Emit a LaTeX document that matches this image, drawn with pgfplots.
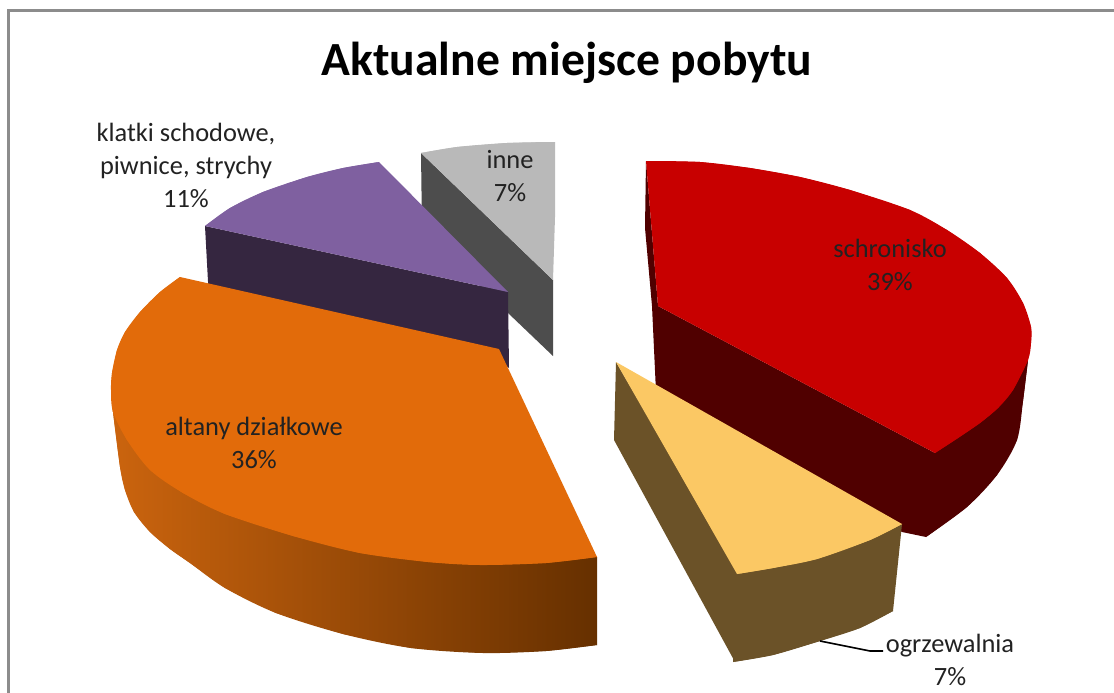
\documentclass[border=0pt]{standalone}
\usepackage{pgfplots}
\pgfplotsset{compat=1.18}
\usepackage{fontspec}
\setmainfont{Carlito}
\definecolor{redtop}{HTML}{C80000}
\definecolor{redside}{HTML}{500000}
\definecolor{yeltop}{HTML}{FBC864}
\definecolor{yelside}{HTML}{6B5228}
\definecolor{ortop}{HTML}{E26B0A}
\definecolor{orl}{HTML}{CB640E}
\definecolor{orm}{HTML}{A04E08}
\definecolor{orr}{HTML}{663000}
\definecolor{purtop}{HTML}{7F60A0}
\definecolor{purside}{HTML}{352640}
\definecolor{gretop}{HTML}{B9B9B9}
\definecolor{greside}{HTML}{4D4D4D}
\definecolor{frame}{HTML}{8C8C8C}
\definecolor{lab}{HTML}{222222}
\begin{document}
\begin{tikzpicture}
\begin{axis}[
    scale only axis,
    width=1114pt, height=693pt,
    xmin=0, xmax=1114, ymin=0, ymax=693,
    y dir=reverse,
    hide axis,
    clip=true,
    every axis plot/.append style={no marks, draw=none},
]
% page size
\addplot[fill=white] coordinates {(0,0) (1114,0) (1114,693) (0,693)} -- cycle;
% outer frame, only top and left are in the picture
\addplot[draw=frame, line width=2.6pt] coordinates {(8.7,693) (8.7,10.3) (1114,10.3)};
% each slice: a polygon with the straight edges, then the same arc again smoothed

% inne
\addplot[fill=greside] coordinates {(421,153) (553,280) (553,356) (508,313) (422,230)} -- cycle;
\addplot[fill=gretop] coordinates {(421,153) (457,147) (507,143) (555,142) (555,217) (553,280)} -- cycle;
\addplot[fill=gretop, smooth] coordinates {(421,153) (457,147) (507,143) (555,142)} -- cycle;
% klatki
\addplot[fill=purside] coordinates {(205,226) (508,292) (509,368) (499,360) (209,300)} -- cycle;
\addplot[fill=purtop] coordinates {(205,226) (230,208) (263,192) (307,177) (343,168) (379,162) (508,292)} -- cycle;
\addplot[fill=purtop, smooth] coordinates {(205,226) (230,208) (263,192) (307,177) (343,168) (379,162)} -- cycle;
% altany, same x range in both so the shading lines up
\addplot[left color=orl, middle color=orm, right color=orr] coordinates {
    (111,390) (597,557) (597,645) (546,651) (483,653) (411,648) (343,634) (276,613) (225,588) (190,563)
    (170,549) (150,532) (134,512) (125,490) (120,467) (113,412)} -- cycle;
\addplot[smooth, left color=orl, middle color=orm, right color=orr] coordinates {
    (111,390) (113,412) (120,467) (125,490) (134,512) (150,532) (170,549) (190,563) (225,588) (276,613) (343,634) (411,648)
    (483,653) (546,651) (597,645)} -- cycle;
\addplot[fill=ortop] coordinates {
    (180,277) (499,349) (597,557) (546,563) (480,565) (428,562) (360,553) (293,536) (225,514)
    (183,493) (150,470) (127,440) (113,412) (111,390) (112,373) (117,350) (125,332) (140,312) (160,292)} -- cycle;
\addplot[fill=ortop, smooth] coordinates {
    (180,277) (160,292) (140,312) (125,332) (117,350) (112,373) (111,390) (113,412) (127,440) (150,470) (183,493) (225,514)
    (293,536) (360,553) (428,562) (480,565) (546,563) (597,557)} -- cycle;
% schronisko
\addplot[fill=redside] coordinates {
    (646,161) (645,228) (652,306) (656,392) (902,532) (926,537) (967,507) (997,475) (1017,440) (1023,401) (1028,360) (935,453) (658,306)} -- cycle;
\addplot[fill=redside, smooth] coordinates {(926,537) (967,507) (997,475) (1017,440) (1023,401) (1028,360)} -- cycle;
\addplot[fill=redtop] coordinates {
    (646,161) (700,162) (750,168) (800,177) (850,190) (910,210) (947,230) (980,253) (1007,278) (1023,303)
    (1031,327) (1031,343) (1028,360) (1013,390) (998,408) (980,423) (958,438) (935,453) (658,306)} -- cycle;
\addplot[fill=redtop, smooth] coordinates {
    (646,161) (700,162) (750,168) (800,177) (850,190) (910,210) (947,230) (980,253) (1007,278) (1023,303)
    (1031,327) (1031,343) (1028,360) (1013,390) (998,408) (980,423) (958,438) (935,453)} -- cycle;
% ogrzewalnia
\addplot[fill=yelside] coordinates {(616,362) (739,574) (735,662) (614,440)} -- cycle;
\addplot[fill=yelside] coordinates {
    (737,570) (902,524) (893,611) (860,628) (820,641) (773,655) (733,662)} -- cycle;
\addplot[fill=yelside, smooth] coordinates {(893,611) (860,628) (820,641) (773,655) (733,662)} -- cycle;
\addplot[fill=yeltop] coordinates {(616,362) (902,524) (870,540) (817,559) (773,568) (737,574)} -- cycle;
\addplot[fill=yeltop, smooth] coordinates {(902,524) (870,540) (817,559) (773,568) (737,574)} -- cycle;
% leader
\addplot[draw=black, line width=1.6pt] coordinates {(820,641) (870,651) (883,651)};
% title and labels
\node[font=\bfseries\fontsize{47.6}{47.6}\selectfont, text=black] at (axis cs:567,63) {Aktualne miejsce pobytu};
\tikzset{lbl/.style={font=\fontsize{26.4}{33}\selectfont, text=lab, align=center}}
\node[lbl] at (axis cs:186,165) {klatki schodowe,\\piwnice, strychy\\11\%};
\node[lbl] at (axis cs:510,176) {inne\\7\%};
\node[lbl] at (axis cs:890,265) {schronisko\\39\%};
\node[lbl] at (axis cs:254,443) {altany działkowe\\36\%};
\node[lbl] at (axis cs:950,660) {ogrzewalnia\\7\%};
\end{axis}
\end{tikzpicture}
\end{document}
